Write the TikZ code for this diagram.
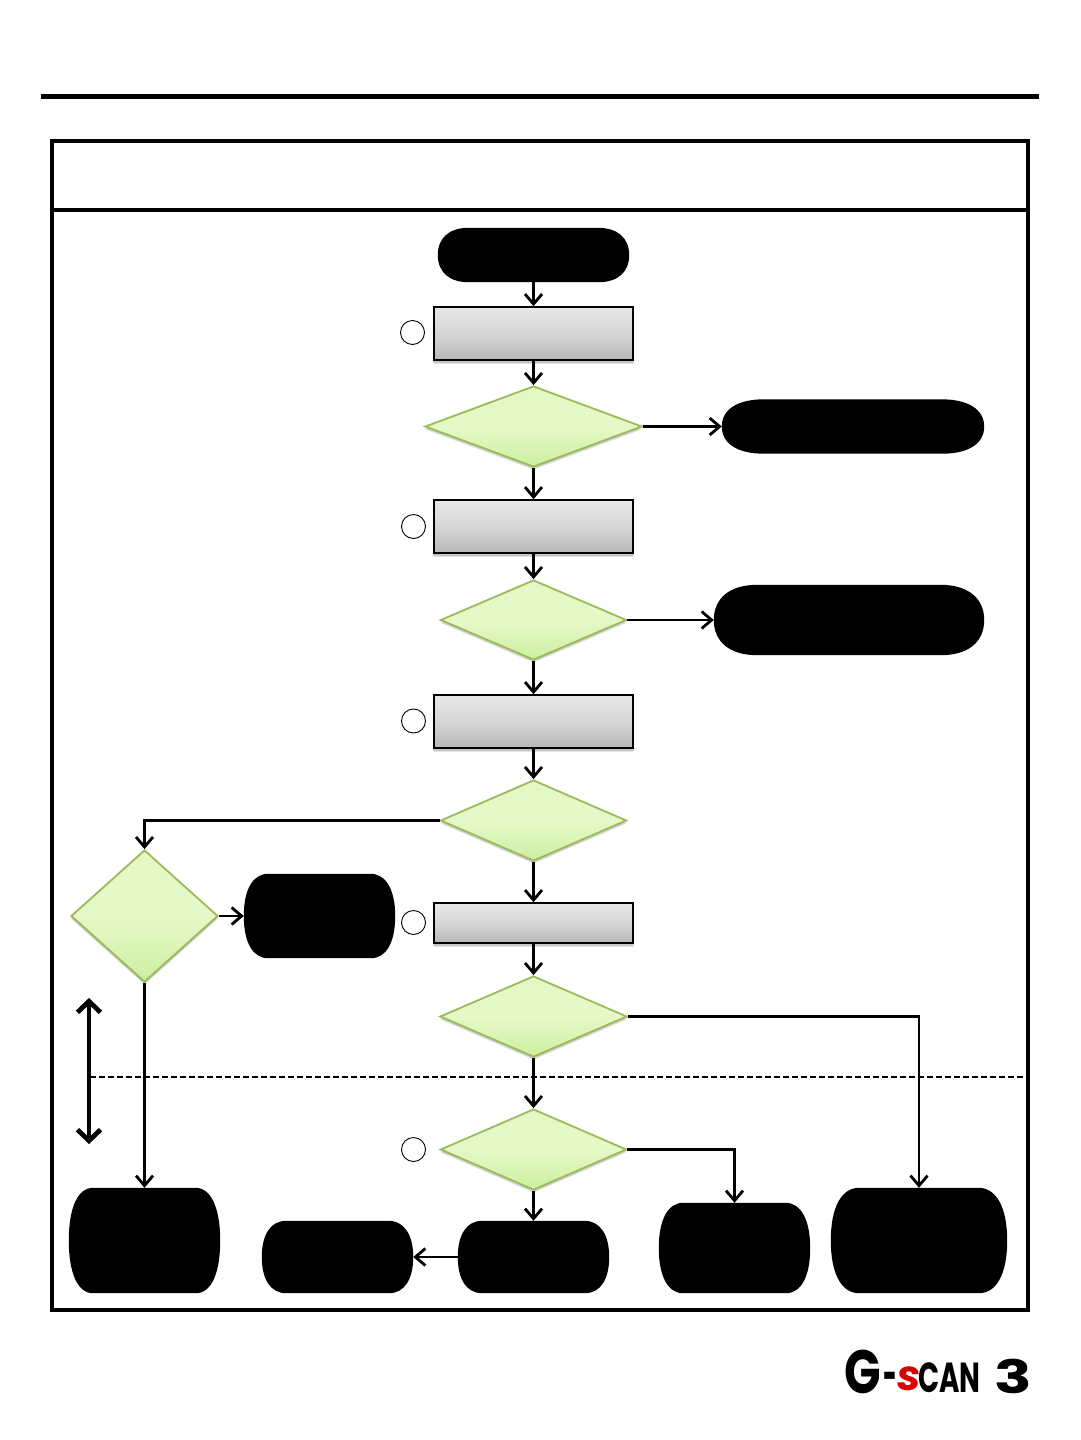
\documentclass[tikz,border=0pt]{standalone}
\usepackage{fontspec}
\setmainfont{Liberation Sans}
\newfontfamily\logofont{Poppins}
\usetikzlibrary{shapes.geometric,arrows.meta,shadows,calc}
\definecolor{dborder}{HTML}{9BBB59}
\definecolor{dtop}{HTML}{E4F7C4}
\definecolor{dmid}{HTML}{E6F8C8}
\definecolor{dbot}{HTML}{CDEFA0}
\definecolor{ptop}{HTML}{E8E8E8}
\definecolor{pmid}{HTML}{D6D6D6}
\definecolor{pbot}{HTML}{B8B8B8}
\tikzset{
  softshadow/.style={drop shadow={shadow xshift=0pt,shadow yshift=-1pt,shadow scale=1.012,opacity=.14,fill=black},
    drop shadow={shadow xshift=0pt,shadow yshift=-2.5pt,shadow scale=1.006,opacity=.14,fill=black},
    drop shadow={shadow xshift=0pt,shadow yshift=-4pt,shadow scale=1,opacity=.10,fill=black}},
  term/.style={draw=none,inner sep=0pt,rectangle},
  procbox/.style={rectangle,draw=black,line width=1.6pt,inner sep=0pt,minimum width=199pt,top color=ptop,bottom color=pbot,middle color=pmid,softshadow},
  dec/.style={diamond,draw=dborder,line width=1.8pt,inner sep=0pt,top color=dtop,bottom color=dbot,middle color=dmid,
    drop shadow={shadow xshift=0pt,shadow yshift=-1.5pt,shadow scale=1.01,opacity=.10,fill=black},
    drop shadow={shadow xshift=0pt,shadow yshift=-3pt,opacity=.12,fill=black}},
  num/.style={circle,draw=black,line width=.9pt,inner sep=0pt,minimum size=24pt,fill=white},
  conn/.style={draw=black,line width=2.7pt,-{Straight Barb[length=10pt,width=17pt,line width=2.8pt]}},
  bigarrow/.style={draw=black,line width=4.8pt,{Straight Barb[length=11pt,width=23pt,line width=4.8pt]}-{Straight Barb[length=11pt,width=23pt,line width=4.8pt]}},
}
% name, cx, cy, width, height: a flowchart terminator with rounded ends
\newcommand{\termnode}[5]{%
  \node[term,minimum width=#4pt,minimum height=#5pt] (#1) at (#2,#3) {};
  \pgfmathsetmacro\termrx{0.161*#4}%
  \pgfmathsetmacro\termry{#5/2}%
  \pgfmathsetmacro\termdx{#4-2*\termrx}%
  \pgfmathsetmacro\termcx{0.63*\termrx}%
  \pgfmathsetmacro\termcy{0.63*\termry}%
  \fill[black] (#1.north west) ++(\termrx,0) -- ++(\termdx,0)
    .. controls +(\termcx,0) and ($(#1.east)+(0,-\termcy)$) .. (#1.east)
    .. controls ($(#1.east)+(0,\termcy)$) and ($(#1.south east)+(-\termrx+\termcx,0)$) .. ($(#1.south east)+(-\termrx,0)$)
    -- ($(#1.south west)+(\termrx,0)$)
    .. controls ($(#1.south west)+(\termrx-\termcx,0)$) and ($(#1.west)+(0,\termcy)$) .. (#1.west)
    .. controls ($(#1.west)+(0,-\termcy)$) and ($(#1.north west)+(\termrx-\termcx,0)$) .. ($(#1.north west)+(\termrx,0)$) -- cycle;
}
\begin{document}
\begin{tikzpicture}[x=1pt,y=-1pt]
\useasboundingbox (0,0) rectangle (1080,1440);
\coordinate (ruleL) at (41,96.5);
\coordinate (ruleR) at (1039,96.5);
\draw[line width=4.5pt] (ruleL) -- (ruleR);
\node[rectangle,draw=black,line width=3.6pt,inner sep=0pt,minimum width=976pt,minimum height=1169pt] (frame) at (540,725.5) {};
\coordinate (hdrL) at (52,210);
\coordinate (hdrR) at (1028,210);
\draw[line width=3.2pt] (hdrL) -- (hdrR);

\termnode{start}{533.5}{255}{191}{54}
\node[procbox,minimum height=53pt] (p1) at (533.5,333.5) {};
\node[dec,minimum width=217pt,minimum height=81pt,shape aspect=2.68] (d1) at (533.5,426.5) {};
\termnode{r1}{853}{426.5}{262}{54}
\node[procbox,minimum height=53pt] (p2) at (533.5,526.5) {};
\node[dec,minimum width=186pt,minimum height=80pt,shape aspect=2.325] (d2) at (533.5,620) {};
\termnode{r2}{849}{620}{270}{70}
\node[procbox,minimum height=53pt] (p3) at (533.5,721.5) {};
\node[dec,minimum width=186pt,minimum height=81pt,shape aspect=2.296] (d3) at (533.5,820.5) {};
\node[dec,minimum width=147pt,minimum height=132pt,shape aspect=1.114] (d4) at (144.5,916) {};
\termnode{m1}{319.5}{916}{151}{84}
\node[procbox,minimum height=40pt] (p4) at (533.5,923) {};
\node[dec,minimum width=187pt,minimum height=81pt,shape aspect=2.309] (d5) at (533.5,1016.5) {};
\node[dec,minimum width=186pt,minimum height=81pt,shape aspect=2.296] (d6) at (533.5,1149.5) {};
\termnode{b1}{144.5}{1240.5}{151}{105}
\termnode{b2}{337.5}{1257}{151}{72}
\termnode{b3}{533.5}{1257}{151}{72}
\termnode{b4}{734.5}{1248}{151}{90}
\termnode{b5}{919}{1240.5}{176}{105}

\node[num] (c1) at (412.5,332.5) {};
\node[num] (c2) at (413.5,526.5) {};
\node[num] (c3) at (413.5,721) {};
\node[num] (c4) at (413.5,922.5) {};
\node[num] (c5) at (413.5,1149.5) {};

\draw[conn] (start) -- (p1);
\draw[conn] (p1) -- (d1);
\draw[conn] (d1) -- (r1);
\draw[conn] (d1) -- (p2);
\draw[conn] (p2) -- (d2);
\draw[conn] (d2) -- (r2);
\draw[conn] (d2) -- (p3);
\draw[conn] (p3) -- (d3);
\draw[conn] (d3) -- (p4);
\draw[conn] (p4) -- (d5);
\draw[conn] (d5) -- (d6);
\draw[conn] (d6) -- (b3);
\draw[conn] (b3) -- (b2);
\draw[conn] (d3.west) -| (d4.north);
\draw[conn] (d4.east) -- (m1.west);
\draw[conn] (d4.south) -- (b1.north);
\draw[conn] (d5.east) -| (b5.north);
\draw[conn] (d6.east) -| (b4.north);

\coordinate (dashL) at (90,1077);
\coordinate (dashR) at (1024,1077);
\draw[line width=1.7pt,dash pattern=on 6pt off 3pt] (dashL) -- (dashR);
\coordinate (vT) at (89,998);
\coordinate (vB) at (89,1144);
\draw[bigarrow] (vT) -- (vB);

% logo
\node[inner sep=0pt,anchor=west] (lg1) at (844,1372) {\scalebox{.8}[1.02]{\fontsize{60}{60}\logofont\bfseries G}};
\node[inner sep=0pt,anchor=west] (lg2) at (883,1383) {\scalebox{.85}[1.8]{\fontsize{28}{28}\logofont\bfseries -}};
\node[inner sep=0pt,anchor=west,text=red!85!black] (lg3) at (897,1379) {\fontsize{42}{42}\logofont\bfseries\itshape s};
\node[inner sep=0pt,anchor=west] (lg4) at (918,1378) {\scalebox{.66}[1]{\fontsize{42}{42}\logofont\bfseries CAN}};
\node[inner sep=0pt,anchor=west] (lg5) at (994,1376) {\scalebox{1.35}[1]{\fontsize{46}{46}\logofont\bfseries 3}};
\end{tikzpicture}
\end{document}
